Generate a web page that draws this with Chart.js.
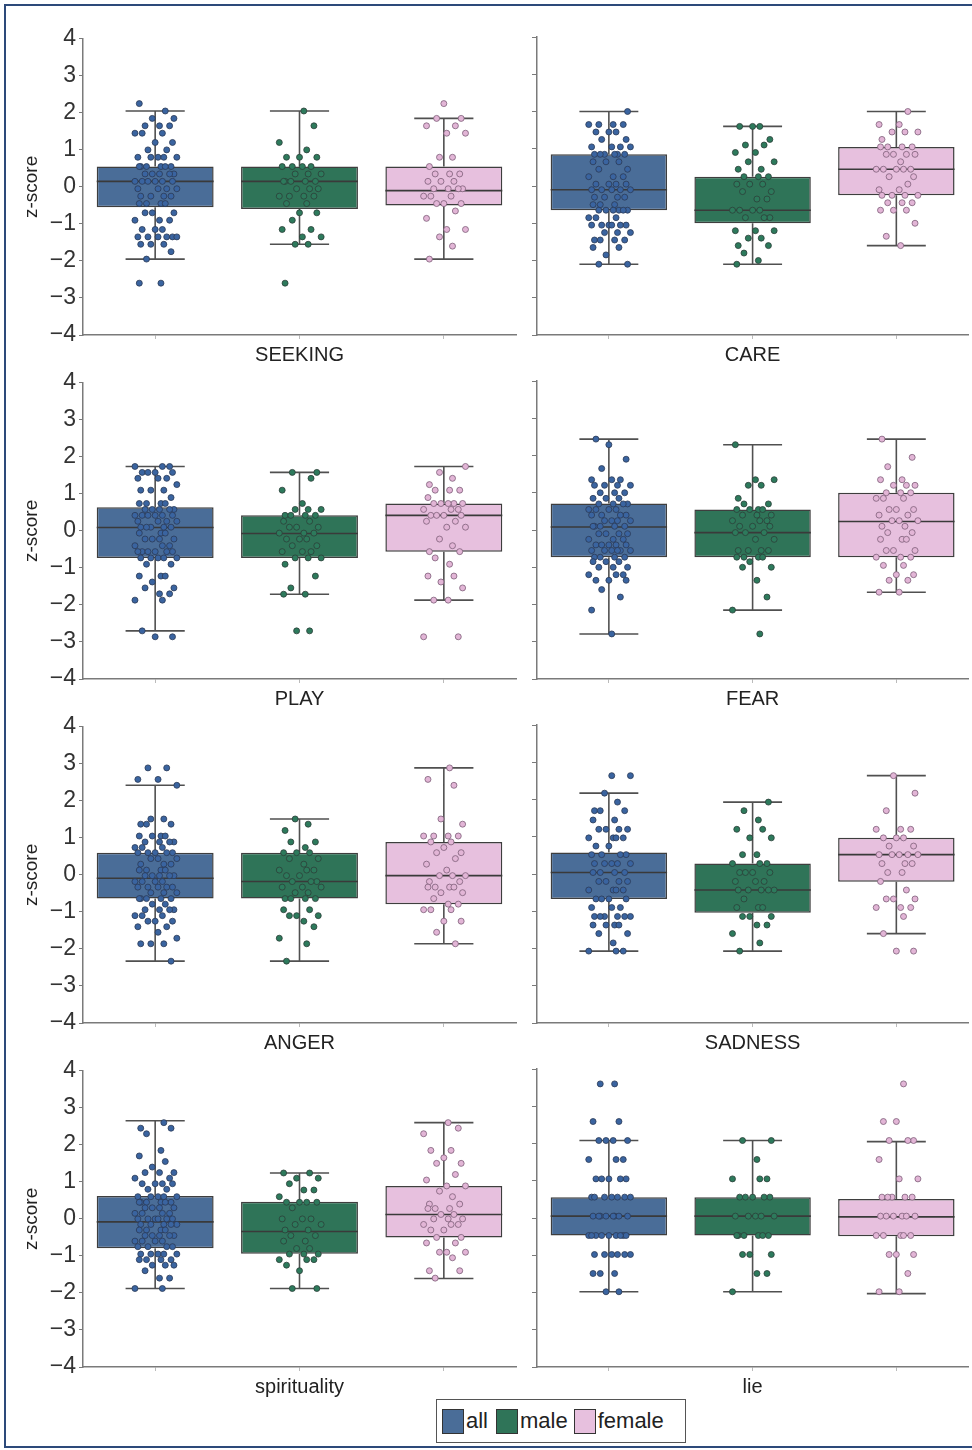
<!DOCTYPE html>
<html>
<head>
<meta charset="utf-8">
<script src="https://cdn.jsdelivr.net/npm/chart.js@4.4.0/dist/chart.umd.min.js"></script>
<style>
  body { margin: 0; background: #fff; font-family: 'Liberation Sans', Arial, sans-serif; }
  #page { position: relative; width: 972px; height: 1450px; overflow: hidden; }
  #frame { position: absolute; left: 4px; top: 4px; width: 990px; height: 1440px; border: 2px solid #2d4a7a; }
  canvas { position: absolute; }
  #legend { position: absolute; left: 436px; top: 1399px; width: 248px; height: 42px; border: 1.5px solid #555;
            display: flex; align-items: center; font-size: 22px; color: #222; background: #fff; }
  .sw { display: inline-block; width: 20px; height: 23px; border: 1.5px solid #333; margin: 0 2px 0 5px; }
</style>
</head>
<body>
<div id="page">
  <div id="frame"></div>
  <canvas id="c0" width="512" height="349" style="left:8px;top:22px"></canvas>
  <canvas id="c1" width="450" height="349" style="left:522px;top:22px"></canvas>
  <canvas id="c2" width="512" height="349" style="left:8px;top:366px"></canvas>
  <canvas id="c3" width="450" height="349" style="left:522px;top:366px"></canvas>
  <canvas id="c4" width="512" height="349" style="left:8px;top:710px"></canvas>
  <canvas id="c5" width="450" height="349" style="left:522px;top:710px"></canvas>
  <canvas id="c6" width="512" height="349" style="left:8px;top:1054px"></canvas>
  <canvas id="c7" width="450" height="349" style="left:522px;top:1054px"></canvas>
  <div id="legend">
    <span class="sw" style="background:#4a6d98"></span>all
    <span class="sw" style="background:#2f7458;margin-left:8px"></span>male
    <span class="sw" style="background:#e7c0de;margin-left:6px"></span>female
  </div>
</div>
<script>
var groups = ['all', 'male', 'female'];
var panelTitles = ['SEEKING', 'CARE', 'PLAY', 'FEAR', 'ANGER', 'SADNESS', 'spirituality', 'lie'];

// box stats per group: [lower whisker, q1, median, q3, upper whisker]
var seekingBox = [[-1.95, -0.55, 0.15, 0.55, 2.05], [-1.55, -0.6, 0.15, 0.55, 2.05], [-1.95, -0.5, -0.1, 0.55, 1.85]];
var careBox = [[-2.1, -0.65, -0.1, 0.85, 2.0], [-2.1, -1.0, -0.65, 0.25, 1.6], [-1.6, -0.25, 0.45, 1.05, 2.0]];
var playBox = [[-2.7, -0.73, 0.09, 0.64, 1.74], [-1.71, -0.73, -0.07, 0.42, 1.58], [-1.87, -0.56, 0.42, 0.74, 1.74]];
var fearBox = [[-2.79, -0.73, 0.08, 0.71, 2.44], [-2.15, -0.73, -0.07, 0.55, 2.29], [-1.67, -0.73, 0.23, 1.0, 2.44]];
var angerBox = [[-2.33, -0.64, -0.09, 0.6, 2.42], [-2.33, -0.64, -0.18, 0.6, 1.51], [-1.86, -0.79, -0.02, 0.89, 2.89]];
var sadnessBox = [[-2.07, -0.67, 0.04, 0.58, 2.17], [-2.07, -1.04, -0.43, 0.28, 1.93], [-1.6, -0.21, 0.52, 0.97, 2.64]];
var spiritBox = [[-1.88, -0.79, -0.08, 0.62, 2.65], [-1.88, -0.94, -0.34, 0.46, 1.24], [-1.61, -0.5, 0.12, 0.89, 2.6]];
var lieBox = [[-1.98, -0.47, 0.05, 0.56, 2.08], [-1.98, -0.47, 0.05, 0.56, 2.08], [-2.03, -0.49, 0.03, 0.51, 2.05]];

// individual z-scores, as [value, how many dots at that value]
var seekingPts = [
  [[2.25,1],[2.05,1],[1.85,2],[1.65,3],[1.45,3],[1.2,2],[1.0,2],[0.8,5],[0.55,6],[0.35,5],[0.15,6],[-0.05,4],[-0.25,4],[-0.45,4],[-0.7,3],[-0.9,3],[-1.15,3],[-1.35,6],[-1.55,3],[-1.75,1],[-1.95,1],[-2.6,2]],
  [[2.05,1],[1.65,1],[1.2,1],[1.0,1],[0.8,3],[0.55,4],[0.35,3],[0.15,5],[-0.05,3],[-0.25,4],[-0.45,2],[-0.7,2],[-0.9,1],[-1.15,2],[-1.35,2],[-1.55,2],[-2.6,1]],
  [[2.25,1],[1.85,2],[1.65,2],[1.45,2],[0.8,2],[0.55,1],[0.35,3],[0.15,3],[-0.05,4],[-0.25,3],[-0.45,3],[-0.65,1],[-0.85,1],[-1.15,2],[-1.35,1],[-1.6,1],[-1.95,1]]
];
var carePts = [
  [[2.0,1],[1.65,4],[1.45,3],[1.25,2],[1.05,4],[0.85,6],[0.65,3],[0.45,2],[0.25,3],[0.05,4],[-0.1,5],[-0.3,4],[-0.5,3],[-0.65,6],[-0.85,3],[-1.05,6],[-1.25,3],[-1.45,4],[-1.65,2],[-1.85,1],[-2.1,2]],
  [[1.6,3],[1.25,1],[1.1,2],[0.9,2],[0.65,2],[0.45,2],[0.25,3],[0.05,3],[-0.15,2],[-0.35,2],[-0.65,4],[-0.85,3],[-1.2,3],[-1.4,2],[-1.6,2],[-1.8,1],[-2.0,1],[-2.1,1]],
  [[2.0,1],[1.65,2],[1.45,3],[1.25,1],[1.05,4],[0.85,4],[0.65,1],[0.45,5],[0.25,2],[0.05,1],[-0.1,2],[-0.25,4],[-0.45,3],[-0.65,3],[-1.0,1],[-1.35,1],[-1.6,1]]
];
var playPts = [
  [[1.74,3],[1.58,4],[1.42,3],[1.25,1],[1.1,3],[0.9,1],[0.74,4],[0.58,5],[0.42,6],[0.26,4],[0.1,5],[-0.06,3],[-0.22,4],[-0.4,3],[-0.56,6],[-0.73,5],[-0.9,2],[-1.22,3],[-1.38,1],[-1.54,2],[-1.7,2],[-1.87,2],[-2.7,1],[-2.86,2]],
  [[1.58,2],[1.42,1],[1.1,1],[0.74,1],[0.58,3],[0.42,4],[0.26,2],[0.1,3],[-0.06,3],[-0.22,3],[-0.4,2],[-0.56,3],[-0.73,3],[-0.9,1],[-1.22,1],[-1.54,1],[-1.71,2],[-2.7,2]],
  [[1.74,1],[1.58,1],[1.42,1],[1.25,1],[1.1,3],[0.9,1],[0.74,5],[0.58,3],[0.42,4],[0.26,2],[0.1,2],[-0.22,1],[-0.4,1],[-0.56,2],[-0.73,1],[-0.9,1],[-1.22,2],[-1.38,1],[-1.54,1],[-1.87,2],[-2.86,2]]
];
var fearPts = [
  [[2.44,1],[2.29,1],[1.9,1],[1.65,1],[1.35,3],[1.2,4],[1.0,3],[0.85,3],[0.7,4],[0.55,4],[0.4,4],[0.25,4],[0.1,5],[-0.1,4],[-0.25,3],[-0.4,5],[-0.55,6],[-0.73,4],[-0.85,3],[-1.0,3],[-1.2,3],[-1.35,3],[-1.6,1],[-1.8,1],[-2.15,1],[-2.79,1]],
  [[2.29,1],[1.35,2],[1.2,2],[0.85,1],[0.7,2],[0.55,4],[0.4,3],[0.25,3],[0.1,3],[-0.07,3],[-0.25,2],[-0.55,4],[-0.73,4],[-0.85,1],[-1.0,2],[-1.35,1],[-1.8,1],[-2.15,1],[-2.79,1]],
  [[2.44,1],[1.95,1],[1.7,1],[1.35,2],[1.2,3],[1.0,3],[0.85,3],[0.55,3],[0.4,2],[0.25,3],[0.1,2],[-0.07,2],[-0.25,3],[-0.55,3],[-0.73,3],[-0.95,2],[-1.2,2],[-1.35,2],[-1.67,2]]
];
var angerPts = [
  [[2.89,2],[2.58,2],[2.42,1],[1.51,2],[1.37,3],[1.05,4],[0.89,4],[0.74,3],[0.6,5],[0.44,3],[0.29,3],[0.13,4],[-0.02,5],[-0.18,4],[-0.33,5],[-0.48,3],[-0.64,5],[-0.79,2],[-0.94,4],[-1.1,3],[-1.25,3],[-1.4,2],[-1.55,1],[-1.71,1],[-1.86,3],[-2.33,1]],
  [[1.51,1],[1.37,1],[1.2,1],[0.89,2],[0.74,1],[0.6,3],[0.44,2],[0.29,1],[0.13,3],[-0.02,2],[-0.18,3],[-0.33,3],[-0.48,2],[-0.64,4],[-0.94,2],[-1.1,3],[-1.25,1],[-1.4,1],[-1.71,1],[-1.86,1],[-2.33,1]],
  [[2.89,1],[2.58,1],[2.42,1],[1.51,1],[1.37,1],[1.05,4],[0.89,2],[0.74,1],[0.6,2],[0.44,1],[0.29,1],[0.13,1],[-0.02,3],[-0.18,2],[-0.33,4],[-0.48,2],[-0.64,1],[-0.79,2],[-0.94,3],[-1.25,2],[-1.55,1],[-1.86,1]]
];
var sadnessPts = [
  [[2.64,2],[2.17,1],[1.93,1],[1.7,3],[1.45,2],[1.2,4],[0.97,4],[0.75,2],[0.52,4],[0.28,5],[0.04,4],[-0.2,4],[-0.43,4],[-0.67,4],[-0.9,3],[-1.14,6],[-1.37,4],[-1.6,2],[-1.85,1],[-2.07,3]],
  [[1.93,1],[1.7,1],[1.45,1],[1.2,2],[0.97,2],[0.52,2],[0.28,3],[0.04,4],[-0.2,3],[-0.43,5],[-0.67,1],[-0.9,3],[-1.14,3],[-1.37,2],[-1.6,1],[-1.85,1],[-2.07,1]],
  [[2.64,1],[2.17,1],[1.7,1],[1.2,3],[0.97,3],[0.75,2],[0.52,5],[0.28,3],[0.04,2],[-0.2,1],[-0.43,1],[-0.67,3],[-0.9,3],[-1.14,1],[-1.6,1],[-2.07,2]]
];
var spiritPts = [
  [[2.6,1],[2.45,2],[2.3,1],[1.85,1],[1.7,1],[1.55,1],[1.4,1],[1.25,3],[1.1,2],[0.95,4],[0.8,2],[0.6,5],[0.45,6],[0.3,4],[0.15,4],[0.0,6],[-0.15,5],[-0.3,4],[-0.45,5],[-0.6,4],[-0.75,4],[-0.95,5],[-1.1,4],[-1.25,3],[-1.4,1],[-1.6,2],[-1.88,2]],
  [[1.24,2],[1.1,2],[0.95,1],[0.78,2],[0.6,1],[0.45,4],[0.3,1],[0.0,3],[-0.15,2],[-0.3,2],[-0.45,2],[-0.6,2],[-0.8,2],[-0.95,3],[-1.1,3],[-1.25,1],[-1.4,1],[-1.88,2]],
  [[2.6,1],[2.45,1],[2.3,1],[1.85,2],[1.65,1],[1.5,2],[1.2,1],[1.05,1],[0.89,2],[0.75,1],[0.6,1],[0.4,2],[0.28,3],[0.12,2],[0.0,3],[-0.15,3],[-0.3,2],[-0.5,2],[-0.65,2],[-0.9,3],[-1.05,1],[-1.4,2],[-1.6,1]]
];
var liePts = [
  [[3.6,2],[2.59,2],[2.08,4],[1.57,3],[1.05,5],[0.56,7],[0.05,8],[-0.47,9],[-0.98,6],[-1.49,3],[-1.98,2]],
  [[2.08,2],[1.57,1],[1.05,3],[0.56,5],[0.05,5],[-0.47,6],[-0.98,3],[-1.49,2],[-1.98,1]],
  [[3.6,1],[2.59,2],[2.08,3],[1.57,1],[1.05,2],[0.56,5],[0.05,6],[-0.47,5],[-0.98,3],[-1.49,1],[-1.98,2]]
];

var boxFill = ['#4a6d98', '#2f7458', '#e7c0de'];
var dotFill = ['#3a64a0', '#2d7a5c', '#e2b5d6'];
var dotEdge = ['#2b3a55', '#2c3f38', '#7d5e78'];
// fixed horizontal spread pattern for the dots (fraction of one category slot)
var spread = [-0.11, 0.07, -0.02, 0.13, -0.07, 0.03, 0.10, -0.14, 0.05, -0.09, 0.00, 0.12, -0.05, 0.08, -0.12, 0.02, 0.15, -0.03, 0.06, -0.10, 0.11, -0.06, 0.04];
var BOX_HALF = 0.405, CAP_HALF = 0.205;

var allBoxes = [seekingBox, careBox, playBox, fearBox, angerBox, sadnessBox, spiritBox, lieBox];
var allPts = [seekingPts, carePts, playPts, fearPts, angerPts, sadnessPts, spiritPts, liePts];

function minusFmt(v) {
    return v < 0 ? '\u2212' + Math.abs(v) : String(v);
}

function makePanel(idx) {
    var boxes = allBoxes[idx];
    var pts = allPts[idx];
    var isLeft = idx % 2 === 0;

    var whiskers = [];
    var medians = [];
    for (var g = 0; g < 3; g++) {
        var b = boxes[g];
        whiskers.push({x: g, y: b[0]}, {x: g, y: b[1]}, {x: g, y: null});
        whiskers.push({x: g, y: b[3]}, {x: g, y: b[4]}, {x: g, y: null});
        whiskers.push({x: g - CAP_HALF, y: b[0]}, {x: g + CAP_HALF, y: b[0]}, {x: g, y: null});
        whiskers.push({x: g - CAP_HALF, y: b[4]}, {x: g + CAP_HALF, y: b[4]}, {x: g, y: null});
        medians.push({x: g - BOX_HALF, y: b[2]}, {x: g + BOX_HALF, y: b[2]}, {x: g, y: null});
    }

    var datasets = [];
    for (var g = 0; g < 3; g++) {
        var dots = [];
        var k = 0;
        pts[g].forEach(function (lv) {
            for (var n = 0; n < lv[1]; n++) {
                dots.push({x: g + spread[(k + g * 5 + idx * 3) % spread.length], y: lv[0]});
                k++;
            }
        });
        datasets.push({
            type: 'scatter', label: groups[g], data: dots, order: 0,
            backgroundColor: dotFill[g], borderColor: dotEdge[g], borderWidth: 0.8,
            pointRadius: 3, pointHoverRadius: 3
        });
    }
    datasets.push({
        type: 'line', data: medians, order: 1, borderColor: '#3a3a3a', borderWidth: 1.6,
        pointRadius: 0, spanGaps: false
    });
    datasets.push({
        type: 'line', data: whiskers, order: 1, borderColor: '#505050', borderWidth: 1.6,
        pointRadius: 0, spanGaps: false
    });
    datasets.push({
        type: 'bar', order: 2,
        data: boxes.map(function (b, g) { return {x: g, y: [b[1], b[3]]}; }),
        backgroundColor: boxFill, borderColor: '#3e3e3e', borderWidth: 1.5, borderSkipped: false,
        categoryPercentage: 1, barPercentage: 0.81
    });

    new Chart(document.getElementById('c' + idx), {
        type: 'bar',
        data: {datasets: datasets},
        options: {
            responsive: false,
            animation: false,
            layout: {padding: {top: 15, right: isLeft ? 4 : 2, left: 0, bottom: 0}},
            plugins: {legend: {display: false}, tooltip: {enabled: false}},
            scales: {
                x: {
                    type: 'linear', min: -0.5, max: 2.5, offset: false,
                    afterBuildTicks: function (s) { s.ticks = [{value: 0}, {value: 1}, {value: 2}]; },
                    ticks: {display: false},
                    grid: {drawOnChartArea: false, offset: false, tickLength: 4, color: '#bbb'},
                    border: {color: '#7a7a7a', width: 1.5},
                    title: {display: true, text: panelTitles[idx], color: '#222',
                            font: {family: 'Liberation Sans', size: 20}, padding: {top: 4, bottom: 4}}
                },
                y: {
                    min: -4, max: 4,
                    afterFit: function (s) { s.width = isLeft ? 75 : 15; },
                    ticks: {display: isLeft, stepSize: 1, color: '#333', padding: 3,
                            font: {family: 'Liberation Sans', size: 23}, callback: minusFmt},
                    grid: {drawOnChartArea: false, tickLength: isLeft ? 4 : 5, color: '#7a7a7a'},
                    border: {color: '#7a7a7a', width: 1.5},
                    title: {display: isLeft, text: 'z-score', color: '#222',
                            font: {family: 'Liberation Sans', size: 19}, padding: {top: 12, bottom: 0}}
                }
            }
        }
    });
}

for (var i = 0; i < 8; i++) {
    makePanel(i);
}
</script>
</body>
</html>
